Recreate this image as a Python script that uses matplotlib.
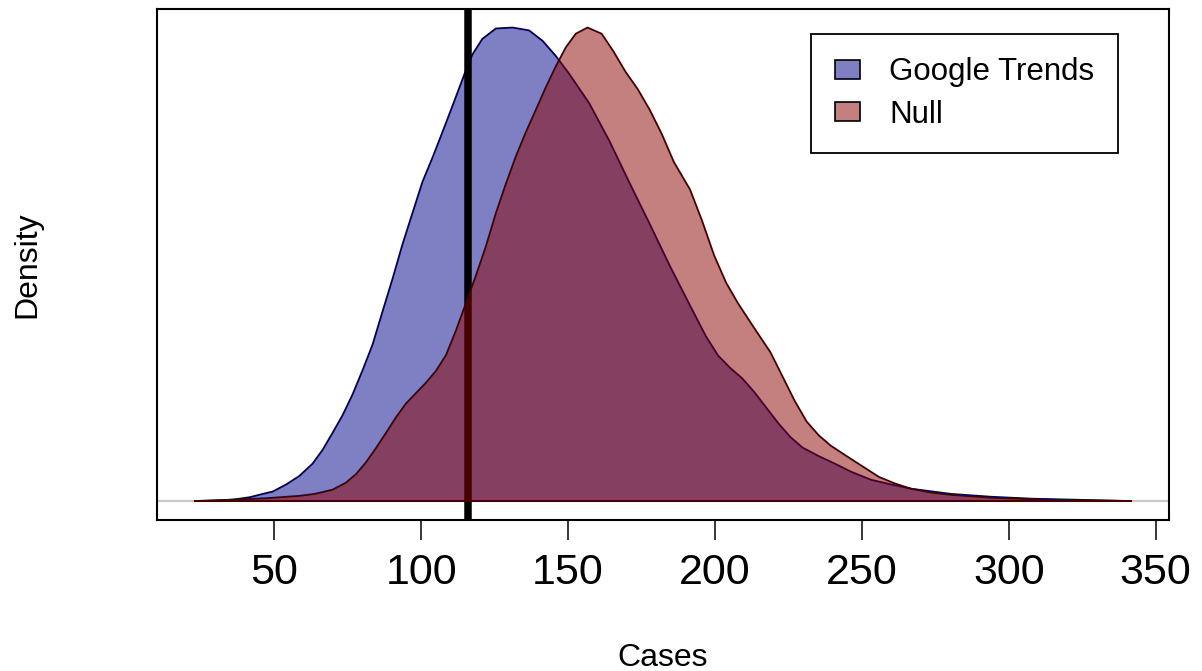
import matplotlib.pyplot as plt
from matplotlib.patches import Patch

plt.rcParams['font.family'] = ['Liberation Sans', 'DejaVu Sans']

# density curves (relative height, peak = 1)
gt_cases = [22.8, 30.2, 35.8, 41.5, 46.0, 49.4, 54.0, 58.5, 63.0, 66.4, 69.8,
            73.2, 76.6, 80.0, 83.4, 86.8, 90.2, 93.6, 97.0, 100.4, 103.8,
            107.2, 110.6, 114.6, 117.4, 120.8, 125.4, 131.1, 136.7, 141.3, 145.8,
            150.4, 157.2, 164.1, 170.9, 177.8, 184.6, 191.5, 197.0, 201.1, 205.2,
            209.3, 213.4, 217.5, 221.6, 225.7, 229.8, 235.3, 240.8, 246.3, 253.1,
            260.0, 266.8, 280.5, 294.2, 307.9, 321.6, 341.8]
gt_density = [0, 0.001, 0.003, 0.008, 0.015, 0.020, 0.035, 0.053, 0.079, 0.108, 0.144,
              0.181, 0.225, 0.276, 0.330, 0.400, 0.469, 0.542, 0.608, 0.674, 0.725,
              0.779, 0.834, 0.900, 0.943, 0.976, 0.998, 1.0, 0.994, 0.972, 0.940,
              0.902, 0.840, 0.760, 0.672, 0.585, 0.497, 0.413, 0.347, 0.307, 0.281,
              0.259, 0.230, 0.197, 0.164, 0.135, 0.113, 0.095, 0.079, 0.062, 0.045,
              0.035, 0.026, 0.015, 0.009, 0.005, 0.003, 0]

null_cases = [22.8, 35.8, 47.2, 58.5, 63.6, 69.8, 74.4, 77.8, 81.2, 84.6, 88.0,
              91.4, 94.8, 98.2, 101.6, 105.0, 108.4, 111.8, 115.2, 118.6, 122.0,
              125.4, 128.8, 132.2, 135.6, 139.0, 142.4, 145.8, 149.2, 152.6, 156.6,
              161.4, 165.4, 169.6, 173.7, 177.8, 181.9, 186.0, 191.5, 195.6, 199.7,
              203.8, 207.9, 213.4, 218.9, 223.0, 227.1, 231.2, 235.3, 239.4, 244.8,
              250.3, 255.8, 261.3, 266.8, 273.6, 280.5, 294.2, 307.9, 321.6, 341.8]
null_density = [0, 0.003, 0.006, 0.011, 0.015, 0.024, 0.039, 0.057, 0.082, 0.112, 0.144,
                0.177, 0.206, 0.228, 0.250, 0.275, 0.308, 0.360, 0.418, 0.476, 0.538,
                0.608, 0.670, 0.728, 0.779, 0.826, 0.874, 0.918, 0.958, 0.987, 1.0,
                0.987, 0.950, 0.906, 0.870, 0.826, 0.775, 0.716, 0.658, 0.592, 0.519,
                0.461, 0.417, 0.365, 0.314, 0.263, 0.212, 0.168, 0.139, 0.117, 0.095,
                0.073, 0.051, 0.037, 0.026, 0.018, 0.013, 0.007, 0.004, 0.0015, 0]

observed = 116
xticks = [50, 100, 150, 200, 250, 300, 350]

blue_fill = (0, 0, 139 / 255, 0.5)
red_fill = (139 / 255, 0, 0, 0.5)

fig = plt.figure(figsize=(12.02, 6.71), dpi=100)
ax = fig.add_axes([157 / 1202, 1 - 520 / 671, 1012 / 1202, 511.4 / 671])

ax.axhline(0, color='#c8c8c8', lw=1.6, zorder=1)
ax.fill(gt_cases, gt_density, facecolor=blue_fill, edgecolor='#000060', lw=1.3, zorder=2)
ax.axvline(observed, color='black', lw=5.4, zorder=3)
ax.fill(null_cases, null_density, facecolor=red_fill, edgecolor='#450000', lw=1.3, zorder=4)

xmin, xmax = min(gt_cases + null_cases), max(gt_cases + null_cases)
pad = 0.04 * (xmax - xmin)
ax.set_xlim(xmin - pad, xmax + pad)
ax.set_ylim(-0.04, 1.04)

ax.set_xticks(xticks)
ax.set_xticklabels([str(t) for t in xticks], fontsize=31)
ax.tick_params(axis='x', length=14.4, width=1.1, pad=9, direction='out')
ax.set_yticks([])
for s in ax.spines.values():
    s.set_linewidth(1.5)

ax.set_xlabel('Cases', fontsize=23)
ax.xaxis.set_label_coords(0.5, -0.24)
ax.set_ylabel('Density', fontsize=23)
ax.yaxis.set_label_coords(-0.1136, 0.5)

handles = [Patch(facecolor=blue_fill, edgecolor='black', lw=1.2),
           Patch(facecolor=red_fill, edgecolor='black', lw=1.2)]
leg = ax.legend(handles, ['Google Trends', 'Null'], loc='upper right',
                bbox_to_anchor=(0.9496, 0.9503), borderaxespad=0, fontsize=22.5,
                fancybox=False, edgecolor='black', framealpha=1,
                handlelength=0.8, handleheight=0.55, handletextpad=0.95,
                borderpad=0.75, labelspacing=0.4)
leg.get_frame().set_linewidth(1.3)

fig.savefig('out.png', dpi=100)
